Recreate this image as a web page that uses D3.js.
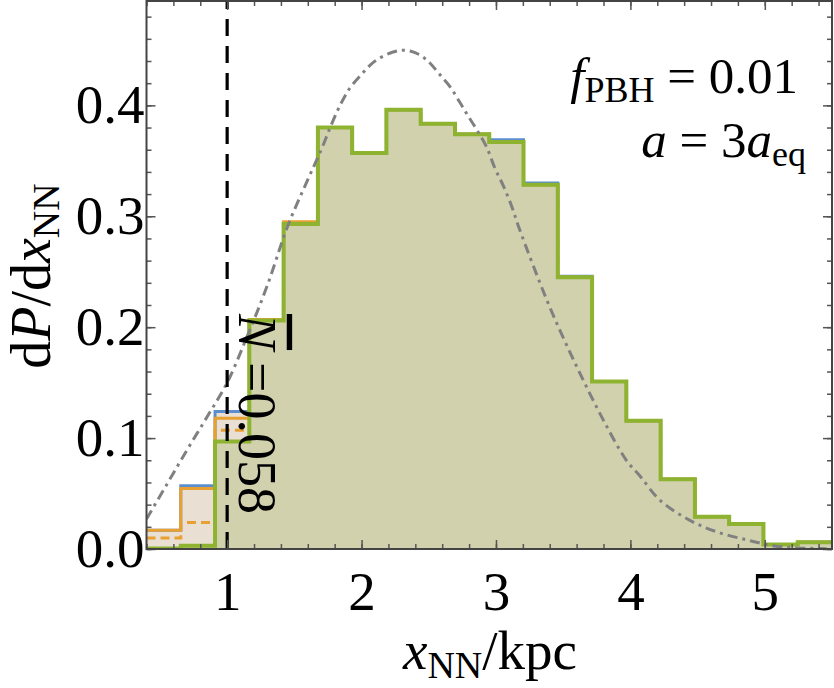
<!DOCTYPE html>
<html>
<head>
<meta charset="utf-8">
<script src="https://cdnjs.cloudflare.com/ajax/libs/d3/7.8.5/d3.min.js"></script>
<style>
body { margin: 0; background: #fff; }
svg { display: block; font-family: "Liberation Serif", "Times New Roman", serif; }
</style>
</head>
<body>
<svg width="834" height="688"></svg>
<script>
'use strict';

// histogram bin edges (kpc), 20 bins
var binEdges = [0.4, 0.655, 0.91, 1.165, 1.42, 1.675, 1.93, 2.185, 2.44, 2.695, 2.95,
	3.205, 3.46, 3.715, 3.97, 4.225, 4.48, 4.735, 4.99, 5.245, 5.5];

// dP/dx per bin
var greenHist = [0.0005, 0.003, 0.097, 0.206, 0.293, 0.380, 0.357, 0.396, 0.3835, 0.374,
	0.367, 0.3285, 0.245, 0.151, 0.1156, 0.063, 0.029, 0.0225, 0.004, 0.006];
var blueHist = [0.017, 0.057, 0.124, 0.206, 0.294, 0.380, 0.357, 0.396, 0.3835, 0.374,
	0.369, 0.330, 0.246, 0.151, 0.1156, 0.063, 0.029, 0.0225, 0.004, 0.006];
var orangeHist = [0.017, 0.0545, 0.118, 0.207, 0.295, 0.380, 0.357, 0.396, 0.3835, 0.374,
	0.367, 0.3285, 0.245, 0.151, 0.1156, 0.063, 0.029, 0.0225, 0.004, 0.006];
var orangeDashHist = [0.010, 0.024, 0.107, 0.206, 0.293, 0.380, 0.357, 0.396, 0.3835, 0.374,
	0.367, 0.3285, 0.245, 0.151, 0.1156, 0.063, 0.029, 0.0225, 0.004, 0.006];

// analytic expectation (grey dot-dash)
var curveX = [0.40, 0.55, 0.70, 0.85, 1.00, 1.15, 1.30, 1.45, 1.60, 1.70, 1.77, 1.84, 1.91,
	2.00, 2.09, 2.19, 2.29, 2.36, 2.44, 2.51, 2.58, 2.66, 2.73, 2.79, 2.86, 2.93, 2.99, 3.06,
	3.12, 3.17, 3.38, 3.51, 3.65, 3.80, 3.97, 4.07, 4.22, 4.44, 4.64, 4.87, 5.06, 5.24, 5.46];
var curveY = [0.027, 0.058, 0.089, 0.119, 0.150, 0.192, 0.238, 0.291, 0.333, 0.360, 0.381,
	0.400, 0.415, 0.428, 0.439, 0.446, 0.4495, 0.449, 0.445, 0.438, 0.428, 0.4165, 0.403,
	0.391, 0.3775, 0.3625, 0.344, 0.326, 0.308, 0.290, 0.224, 0.188, 0.152, 0.116, 0.080,
	0.066, 0.044, 0.026, 0.0156, 0.0081, 0.003, 0.001, 0.0003];

var xTicks = [1, 2, 3, 4, 5];
var yTicks = [0, 0.1, 0.2, 0.3, 0.4];
var xMinor = d3.range(0.4, 5.5, 0.2);
var yMinor = d3.range(0, 0.495, 0.02);
var vLineX = 1;
var nBarText = "0.058";

var svg = d3.select("svg"),
	pLeft = 146.5, pRight = 832, pTop = 1, pBottom = 549;

var x = d3.scaleLinear().domain([0.4, 5.5]).range([pLeft, pRight]),
	y = d3.scaleLinear().domain([0, 0.495]).range([pBottom, 0]);

svg.append("clipPath").attr("id", "clip")
	.append("rect").attr("x", pLeft).attr("y", pTop).attr("width", pRight - pLeft).attr("height", pBottom - pTop);

var plot = svg.append("g").attr("clip-path", "url(#clip)");

function stepPts(vals) {
	var pts = vals.map(function(v, i) { return [binEdges[i], v]; });
	pts.push([binEdges[binEdges.length - 1], vals[vals.length - 1]]);
	return pts;
}

var area = d3.area().curve(d3.curveStepAfter)
	.x(function(d) { return x(d[0]); })
	.y0(y(0))
	.y1(function(d) { return y(d[1]); });
var line = d3.line().curve(d3.curveStepAfter)
	.x(function(d) { return x(d[0]); })
	.y(function(d) { return y(d[1]); });

// fills
plot.append("path").attr("d", area(stepPts(blueHist))).attr("fill", "#e9e0d3");
plot.append("path").attr("d", area(stepPts(orangeHist))).attr("fill", "#e9e0d3");
plot.append("path").attr("d", area(stepPts(greenHist))).attr("fill", "#d1d1ad");

// outlines
plot.append("path").attr("d", line(stepPts(blueHist)))
	.attr("fill", "none").attr("stroke", "#5b8ecf").attr("stroke-width", 3);
plot.append("path").attr("d", line(stepPts(orangeHist)))
	.attr("fill", "none").attr("stroke", "#e8a033").attr("stroke-width", 3);
plot.append("path").attr("d", line(stepPts(orangeDashHist)))
	.attr("fill", "none").attr("stroke", "#e8a033").attr("stroke-width", 3)
	.attr("stroke-dasharray", "9,5");
plot.append("path").attr("d", line(stepPts(greenHist)))
	.attr("fill", "none").attr("stroke", "#8db330").attr("stroke-width", 4);

// grey dot-dash curve
var curveLine = d3.line().curve(d3.curveCatmullRom)
	.x(function(d, i) { return x(curveX[i]); })
	.y(function(d) { return y(d); });
plot.append("path").attr("d", curveLine(curveY))
	.attr("fill", "none").attr("stroke", "#808080").attr("stroke-width", 3)
	.attr("stroke-dasharray", "10,5,3,5");

// vertical dashed line at x = 1 kpc
plot.append("line")
	.attr("x1", x(vLineX)).attr("x2", x(vLineX))
	.attr("y1", y(0)).attr("y2", pTop)
	.attr("stroke", "#000").attr("stroke-width", 3.2)
	.attr("stroke-dasharray", "17,10");

// rotated N-bar label
var nt = svg.append("text")
	.attr("transform", "translate(" + (x(vLineX) + 12) + "," + 314 + ") rotate(90)")
	.attr("font-size", 54);
nt.append("tspan").attr("font-style", "italic").style("text-decoration", "overline").text("N");
nt.append("tspan").attr("dx", 12).text("=" + nBarText);

// axes (ticks inward)
function axisG(ax, tr) {
	var g = svg.append("g").attr("transform", tr).call(ax);
	g.select(".domain").remove();
	g.selectAll("line").attr("stroke", "#555").attr("stroke-width", 1.5);
	return g;
}
axisG(d3.axisBottom(x).tickValues(xTicks).tickSize(-9).tickPadding(22).tickFormat(d3.format("d")),
	"translate(0," + pBottom + ")");
axisG(d3.axisBottom(x).tickValues(xMinor).tickSize(-5).tickFormat(""), "translate(0," + pBottom + ")");
axisG(d3.axisTop(x).tickValues(xTicks).tickSize(-9).tickFormat(""), "translate(0," + pTop + ")");
axisG(d3.axisTop(x).tickValues(xMinor).tickSize(-5).tickFormat(""), "translate(0," + pTop + ")");
axisG(d3.axisLeft(y).tickValues(yTicks).tickSize(-9).tickPadding(2).tickFormat(d3.format(".1f")),
	"translate(" + pLeft + ",0)");
axisG(d3.axisLeft(y).tickValues(yMinor).tickSize(-5).tickFormat(""), "translate(" + pLeft + ",0)");
axisG(d3.axisRight(y).tickValues(yTicks).tickSize(-9).tickFormat(""), "translate(" + pRight + ",0)");
axisG(d3.axisRight(y).tickValues(yMinor).tickSize(-5).tickFormat(""), "translate(" + pRight + ",0)");

svg.selectAll(".tick text").attr("font-size", 55).attr("fill", "#000")
	.attr("font-family", "Liberation Serif, serif");

// frame
svg.append("rect").attr("x", pLeft).attr("y", pTop).attr("width", pRight - pLeft).attr("height", pBottom - pTop)
	.attr("fill", "none").attr("stroke", "#444").attr("stroke-width", 2);

// axis titles
var xl = svg.append("text").attr("x", 490).attr("y", 669).attr("text-anchor", "middle").attr("font-size", 55);
xl.append("tspan").attr("font-style", "italic").text("x");
xl.append("tspan").attr("font-size", 38).attr("dy", 9).text("NN");
xl.append("tspan").attr("dy", -9).text("/kpc");

var yl = svg.append("text").attr("transform", "translate(50,276) rotate(-90)")
	.attr("text-anchor", "middle").attr("font-size", 56);
yl.append("tspan").text("d");
yl.append("tspan").attr("font-style", "italic").text("P");
yl.append("tspan").text("/d");
yl.append("tspan").attr("font-style", "italic").text("x");
yl.append("tspan").attr("font-size", 38).attr("dy", 9).text("NN");

// parameter annotation
var t1 = svg.append("text").attr("x", 798).attr("y", 93).attr("text-anchor", "end").attr("font-size", 51);
t1.append("tspan").attr("font-style", "italic").text("f");
t1.append("tspan").attr("font-size", 36).attr("dy", 9).text("PBH");
t1.append("tspan").attr("dy", -9).text(" = 0.01");

var t2 = svg.append("text").attr("x", 806).attr("y", 157).attr("text-anchor", "end").attr("font-size", 51);
t2.append("tspan").attr("font-style", "italic").text("a");
t2.append("tspan").text(" = 3");
t2.append("tspan").attr("font-style", "italic").text("a");
t2.append("tspan").attr("font-size", 36).attr("dy", 9).text("eq");
</script>
</body>
</html>
